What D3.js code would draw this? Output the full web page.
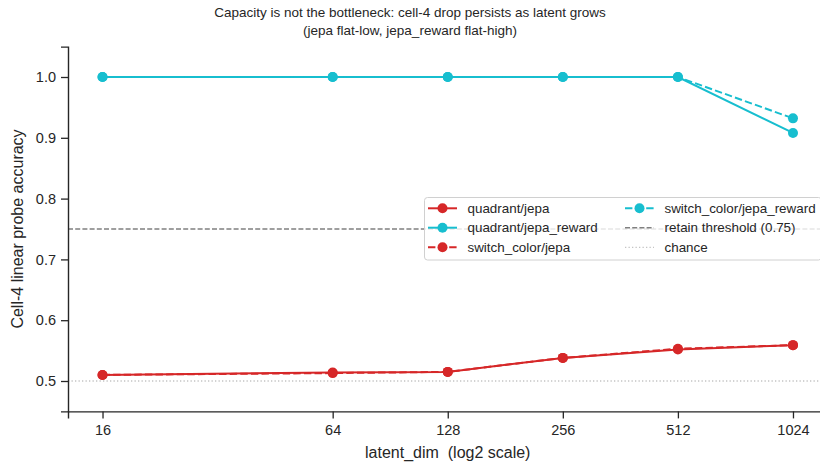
<!DOCTYPE html>
<html>
<head>
<meta charset="utf-8">
<script src="https://cdn.jsdelivr.net/npm/d3@7"></script>
<style>
  body { margin: 0; background: #fff; }
  svg { display: block; font-family: "Liberation Sans", Arial, sans-serif; }
</style>
</head>
<body>
<div id="container"></div>
<script>
/* DATA */
const latentDims = [16, 64, 128, 256, 512, 1024];
const quadrantJepa = [0.510, 0.514, 0.515, 0.538, 0.552, 0.559];
const quadrantJepaReward = [1.0, 1.0, 1.0, 1.0, 1.0, 0.908];
const switchColorJepa = [0.510, 0.513, 0.515, 0.538, 0.553, 0.559];
const switchColorJepaReward = [1.0, 1.0, 1.0, 1.0, 1.0, 0.932];
const yTicks = [0.5, 0.6, 0.7, 0.8, 0.9, 1.0];
const retainThreshold = 0.75;
const chance = 0.5;

const RED = "#d62728", CYAN = "#17becf";
const TEXT = "#262626";

const series = [
  {name: "quadrant/jepa", values: quadrantJepa, color: RED, dash: null},
  {name: "quadrant/jepa_reward", values: quadrantJepaReward, color: CYAN, dash: null},
  {name: "switch_color/jepa", values: switchColorJepa, color: RED, dash: "7.4,3.2"},
  {name: "switch_color/jepa_reward", values: switchColorJepaReward, color: CYAN, dash: "7.4,3.2"}
];

/* LAYOUT */
const width = 820, height = 464;
const margin = {top: 46.6, left: 68, bottom: 411.4, right: 827.5};

const svg = d3.select("#container").append("svg")
  .attr("width", width)
  .attr("height", height);

const x = d3.scaleLog().base(2)
  .domain([Math.pow(2, 4 - 0.3), Math.pow(2, 10 + 0.3)])
  .range([margin.left, margin.right]);

const y = d3.scaleLinear()
  .domain([0.45, 1.05])
  .range([margin.bottom, margin.top]);

// reference lines
svg.append("line")
  .attr("x1", margin.left).attr("x2", margin.right)
  .attr("y1", y(retainThreshold)).attr("y2", y(retainThreshold))
  .attr("stroke", "#808080").attr("stroke-width", 1.4)
  .attr("stroke-dasharray", "5,2.2");

svg.append("line")
  .attr("x1", margin.left).attr("x2", margin.right)
  .attr("y1", y(chance)).attr("y2", y(chance))
  .attr("stroke", "#c4c4c4").attr("stroke-width", 1.3)
  .attr("stroke-dasharray", "1.3,2.2");

// series
const line = d3.line()
  .x((d, i) => x(latentDims[i]))
  .y(d => y(d));

series.forEach(s => {
  const g = svg.append("g");
  g.append("path")
    .datum(s.values)
    .attr("fill", "none")
    .attr("stroke", s.color)
    .attr("stroke-width", 2)
    .attr("stroke-dasharray", s.dash)
    .attr("d", line);
  g.selectAll("circle")
    .data(s.values)
    .join("circle")
    .attr("cx", (d, i) => x(latentDims[i]))
    .attr("cy", d => y(d))
    .attr("r", 5)
    .attr("fill", s.color);
});

// axes
const xAxis = svg.append("g")
  .attr("transform", `translate(0,${margin.bottom})`)
  .call(d3.axisBottom(x).tickValues(latentDims).tickFormat(d3.format("d")).tickSizeOuter(0).tickSize(7).tickPadding(6));

const yAxis = svg.append("g")
  .attr("transform", `translate(${margin.left},0)`)
  .call(d3.axisLeft(y).tickValues(yTicks).tickFormat(d3.format(".1f")).tickSizeOuter(0).tickSize(7).tickPadding(5));

[xAxis, yAxis].forEach(a => {
  a.selectAll("text").attr("font-size", 14.5).attr("fill", TEXT).attr("font-family", "Liberation Sans, Arial, sans-serif");
  a.selectAll("line").attr("stroke", TEXT).attr("stroke-width", 1.3);
  a.select(".domain").attr("stroke", TEXT).attr("stroke-width", 1.4);
});

// labels
svg.append("text")
  .attr("x", (margin.left + margin.right) / 2)
  .attr("y", 458)
  .attr("text-anchor", "middle")
  .attr("font-size", 16)
  .attr("fill", TEXT)
  .attr("xml:space", "preserve")
  .style("white-space", "pre")
  .text("latent_dim  (log2 scale)");

svg.append("text")
  .attr("transform", `translate(23,${(margin.top + margin.bottom) / 2}) rotate(-90)`)
  .attr("text-anchor", "middle")
  .attr("font-size", 16)
  .attr("fill", TEXT)
  .text("Cell-4 linear probe accuracy");

const title = svg.append("text")
  .attr("text-anchor", "middle")
  .attr("font-size", 13.5)
  .attr("fill", TEXT);
title.append("tspan").attr("x", width / 2).attr("y", 17)
  .text("Capacity is not the bottleneck: cell-4 drop persists as latent grows");
title.append("tspan").attr("x", width / 2).attr("y", 35)
  .text("(jepa flat-low, jepa_reward flat-high)");

// legend
const legendItems = [
  series[0], series[1], series[2], series[3],
  {name: "retain threshold (0.75)", color: "#808080", dash: "5,2.2", noMarker: true, width: 1.4},
  {name: "chance", color: "#c4c4c4", dash: "1.3,2.2", noMarker: true, width: 1.3}
];

const legend = svg.append("g");
legend.append("rect")
  .attr("x", 424.5).attr("y", 197.5)
  .attr("width", 397).attr("height", 62.5)
  .attr("rx", 3)
  .attr("fill", "#fff").attr("fill-opacity", 0.8)
  .attr("stroke", "#d0d0d0").attr("stroke-width", 1);

const colX = [428, 625], rowY = [208.3, 227.7, 247.3];
legendItems.forEach((d, i) => {
  const cx = colX[Math.floor(i / 3)], cy = rowY[i % 3];
  const g = legend.append("g");
  g.append("line")
    .attr("x1", cx).attr("x2", cx + 29)
    .attr("y1", cy).attr("y2", cy)
    .attr("stroke", d.color)
    .attr("stroke-width", d.width || 2)
    .attr("stroke-dasharray", d.dash);
  if (!d.noMarker) {
    g.append("circle").attr("cx", cx + 14.5).attr("cy", cy).attr("r", 5).attr("fill", d.color);
  }
  g.append("text")
    .attr("x", cx + 39.5).attr("y", cy)
    .attr("dy", "0.35em")
    .attr("font-size", 13.4)
    .attr("fill", TEXT)
    .text(d.name);
});
</script>
</body>
</html>
